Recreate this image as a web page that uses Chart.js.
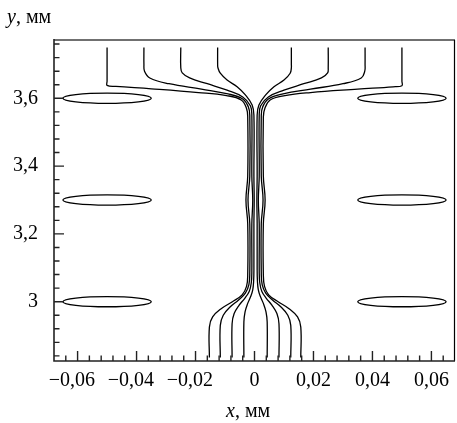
<!DOCTYPE html>
<html><head><meta charset="utf-8">
<script src="https://cdn.jsdelivr.net/npm/chart.js@4.4.0/dist/chart.umd.min.js"></script>
<style>html,body{margin:0;padding:0;background:#fff;}#wrap{width:457px;height:423px;position:relative;}</style>
</head><body><div id="wrap"><canvas id="c"></canvas></div>
<script>
// ---- axis ticks ----
const xTickValues = [-0.06, -0.04, -0.02, 0, 0.02, 0.04, 0.06];
const xTickLabels = ['−0,06', '−0,04', '−0,02', '0', '0,02', '0,04', '0,06'];
const yTickValues = [3.0, 3.2, 3.4, 3.6];
const yTickLabels = ['3', '3,2', '3,4', '3,6'];
const xRange = [-0.068, 0.068];
const yRange = [2.825, 3.772];

// ---- obstacles (circles, radius in mm) ----
const obstacleX = [-0.05, 0.05];
const obstacleY = [3.0, 3.3, 3.6];
const obstacleR = 0.015;

// ---- streamlines [x, y] in mm ----
const streamL1 = [[-0.0153,2.835],[-0.0153,2.925],[-0.0142,2.955],[-0.0112,2.98],[-0.0075,3.0],[-0.0042,3.02],[-0.0027,3.045],[-0.0023,3.08],[-0.0023,3.23],[-0.0029,3.30],[-0.0023,3.37],[-0.0023,3.545],[-0.0027,3.57],[-0.0045,3.595],[-0.0095,3.608],[-0.019,3.617],[-0.035,3.628],[-0.047,3.635],[-0.05,3.638],[-0.05,3.65],[-0.05,3.75]];
const streamL2 = [[-0.0116,2.835],[-0.0116,2.93],[-0.0106,2.96],[-0.0082,2.985],[-0.0054,3.005],[-0.0031,3.025],[-0.0019,3.05],[-0.0016,3.085],[-0.0016,3.23],[-0.0022,3.30],[-0.0016,3.37],[-0.0016,3.55],[-0.0021,3.575],[-0.004,3.598],[-0.009,3.613],[-0.018,3.627],[-0.029,3.643],[-0.0355,3.66],[-0.0373,3.68],[-0.0375,3.70],[-0.0375,3.75]];
const streamL3 = [[-0.0076,2.835],[-0.0076,2.935],[-0.0069,2.965],[-0.0052,2.99],[-0.0033,3.01],[-0.0018,3.03],[-0.0011,3.055],[-0.0009,3.09],[-0.0009,3.23],[-0.0006,3.30],[-0.0009,3.37],[-0.0009,3.55],[-0.0014,3.578],[-0.004,3.604],[-0.0093,3.624],[-0.016,3.643],[-0.022,3.66],[-0.0245,3.675],[-0.025,3.69],[-0.025,3.75]];
const streamL4 = [[-0.0036,2.835],[-0.0036,2.94],[-0.0032,2.97],[-0.0023,2.995],[-0.0013,3.015],[-0.0006,3.035],[-0.0003,3.06],[-0.0002,3.095],[-0.0002,3.23],[-0.0001,3.30],[-0.0002,3.37],[-0.0002,3.55],[-0.0008,3.58],[-0.0031,3.61],[-0.0059,3.634],[-0.0093,3.654],[-0.0116,3.674],[-0.0124,3.69],[-0.0125,3.70],[-0.0125,3.75]];
const streamR4 = [[0.0043,2.835],[0.0043,2.94],[0.0039,2.97],[0.003,2.995],[0.002,3.015],[0.0013,3.035],[0.001,3.06],[0.0009,3.095],[0.0009,3.23],[0.0008,3.30],[0.0009,3.37],[0.0009,3.55],[0.0015,3.58],[0.0038,3.61],[0.0066,3.634],[0.01,3.654],[0.0121,3.674],[0.0125,3.69],[0.0125,3.70],[0.0125,3.75]];
const streamR3 = [[0.0083,2.835],[0.0083,2.935],[0.0076,2.965],[0.0059,2.99],[0.004,3.01],[0.0025,3.03],[0.0018,3.055],[0.0016,3.09],[0.0016,3.23],[0.0013,3.30],[0.0016,3.37],[0.0016,3.55],[0.0021,3.578],[0.0047,3.604],[0.01,3.624],[0.0167,3.643],[0.0227,3.66],[0.0248,3.675],[0.025,3.69],[0.025,3.75]];
const streamR2 = [[0.0123,2.835],[0.0123,2.93],[0.0113,2.96],[0.0089,2.985],[0.0061,3.005],[0.0038,3.025],[0.0026,3.05],[0.0023,3.085],[0.0023,3.23],[0.0029,3.30],[0.0023,3.37],[0.0023,3.55],[0.0028,3.575],[0.0047,3.598],[0.0097,3.613],[0.019,3.627],[0.03,3.643],[0.0362,3.66],[0.0374,3.68],[0.0375,3.70],[0.0375,3.75]];
const streamR1 = [[0.0157,2.835],[0.0157,2.925],[0.0146,2.955],[0.0116,2.98],[0.008,3.0],[0.0048,3.02],[0.0034,3.045],[0.003,3.08],[0.003,3.23],[0.0036,3.30],[0.003,3.37],[0.003,3.545],[0.0035,3.57],[0.0053,3.595],[0.0103,3.608],[0.019,3.617],[0.035,3.627],[0.047,3.634],[0.05,3.637],[0.05,3.65],[0.05,3.75]];
const streamlines = [streamL1, streamL2, streamL3, streamL4, streamR4, streamR3, streamR2, streamR1];

const FONT = '"Liberation Serif", "Times New Roman", serif';
const TICK_SIZE = 20;

const decorPlugin = {
  id: 'decor',
  afterDatasetsDraw(chart) {
    const {ctx, chartArea: a, scales: {x, y}} = chart;
    ctx.save();
    // obstacles
    ctx.strokeStyle = '#000';
    ctx.lineWidth = 1.3;
    for (const cx of obstacleX) {
      for (const cy of obstacleY) {
        const px = x.getPixelForValue(cx), py = y.getPixelForValue(cy);
        const rx = Math.abs(x.getPixelForValue(cx + obstacleR) - px);
        const ry = Math.abs(y.getPixelForValue(cy + obstacleR) - py);
        ctx.beginPath();
        ctx.ellipse(px, py, rx, ry, 0, 0, Math.PI * 2);
        ctx.stroke();
      }
    }
    // frame: top (grey) and right
    ctx.strokeStyle = '#707070';
    ctx.lineWidth = 2;
    ctx.beginPath(); ctx.moveTo(a.left, a.top); ctx.lineTo(a.right, a.top); ctx.stroke();
    ctx.strokeStyle = '#000';
    ctx.lineWidth = 1.2;
    ctx.beginPath(); ctx.moveTo(a.right - 0.5, a.top); ctx.lineTo(a.right - 0.5, a.bottom); ctx.stroke();
    // left & bottom axes
    ctx.strokeStyle = '#222';
    ctx.lineWidth = 1.6;
    ctx.beginPath(); ctx.moveTo(a.left, a.top - 1); ctx.lineTo(a.left, a.bottom); ctx.lineTo(a.right, a.bottom); ctx.stroke();
    // inner ticks
    ctx.lineWidth = 1.4;
    ctx.beginPath();
    for (let i = -16; i <= 17; i++) {
      const v = i * 0.004;
      if (v <= xRange[0] || v >= xRange[1]) continue;
      const p = x.getPixelForValue(v);
      const len = (i % 5 === 0) ? 10 : 5.5;
      ctx.moveTo(p, a.bottom); ctx.lineTo(p, a.bottom - len);
    }
    for (let i = 0; i <= 23; i++) {
      const v = 2.84 + i * 0.04;
      if (v <= yRange[0] || v >= yRange[1]) continue;
      const p = y.getPixelForValue(v);
      const len = ((i - 4) % 5 === 0) ? 10 : 5.5;
      ctx.moveTo(a.left, p); ctx.lineTo(a.left + len, p);
    }
    ctx.stroke();
    // x tick labels: numeric part centred on the tick, minus sign hanging left
    ctx.fillStyle = '#000';
    ctx.font = TICK_SIZE + 'px ' + FONT;
    ctx.textBaseline = 'middle';
    ctx.textAlign = 'left';
    xTickValues.forEach((v, i) => {
      const lab = xTickLabels[i];
      const p = x.getPixelForValue(v);
      const num = lab.replace('−', '');
      const wNum = ctx.measureText(num).width;
      const wAll = ctx.measureText(lab).width;
      ctx.fillText(lab, p - wNum / 2 - (wAll - wNum), a.bottom + 20);
    });
    // axis titles
    ctx.textBaseline = 'alphabetic';
    const drawTitle = (sym, rest, left, base) => {
      ctx.font = 'italic 20px ' + FONT;
      ctx.fillText(sym, left, base);
      const w = ctx.measureText(sym).width;
      ctx.font = '20px ' + FONT;
      ctx.fillText(rest, left + w, base);
    };
    drawTitle('y', ', мм', 7, 23);
    drawTitle('x', ', мм', 226, 417);
    ctx.restore();
  }
};

const datasets = streamlines.map((line, i) => ({
  label: 'line' + (i + 1),
  data: line.map(p => ({x: p[0], y: p[1]})),
  showLine: true,
  borderColor: '#000',
  borderWidth: 1.3,
  pointRadius: 0,
  tension: 0.4,
  fill: false
}));

new Chart(document.getElementById('c'), {
  type: 'scatter',
  data: {datasets},
  options: {
    responsive: true,
    maintainAspectRatio: false,
    animation: false,
    devicePixelRatio: 1,
    layout: {padding: {top: 40, right: 2, left: 0, bottom: 0}},
    plugins: {legend: {display: false}, tooltip: {enabled: false}},
    scales: {
      x: {
        type: 'linear', min: xRange[0], max: xRange[1],
        grid: {display: false, drawTicks: false}, border: {display: false},
        afterBuildTicks: s => { s.ticks = xTickValues.map(v => ({value: v})); },
        afterFit: s => { s.height = 62; },
        ticks: {display: false}
      },
      y: {
        type: 'linear', min: yRange[0], max: yRange[1],
        grid: {display: false, drawTicks: false}, border: {display: false},
        afterBuildTicks: s => { s.ticks = yTickValues.map(v => ({value: v})); },
        afterFit: s => { s.width = 54; },
        ticks: {
          color: '#000', padding: 16, autoSkip: false,
          font: {family: FONT, size: TICK_SIZE},
          callback: (v, i) => yTickLabels[i]
        }
      }
    }
  },
  plugins: [decorPlugin]
});
</script></body></html>
